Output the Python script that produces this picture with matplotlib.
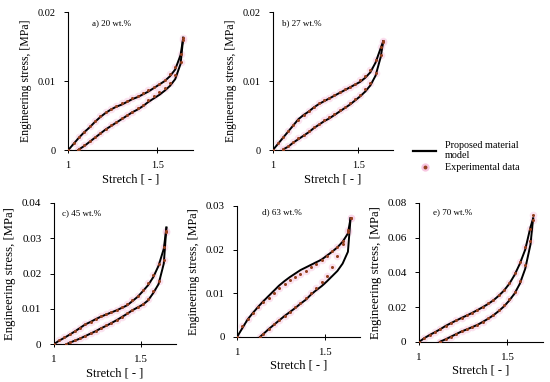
import numpy as np
import matplotlib
matplotlib.use("Agg")
import matplotlib.pyplot as plt
from matplotlib.lines import Line2D

plt.rcParams['font.family'] = 'Liberation Serif'

# shared stretch grid
STRETCH = [1.00, 1.03, 1.06, 1.09, 1.12, 1.15, 1.18, 1.21, 1.24, 1.27, 1.30, 1.33,
           1.36, 1.39, 1.42, 1.45, 1.48, 1.51, 1.54, 1.57, 1.60, 1.63, 1.645]
nan = np.nan

PANEL_LABELS = ["a) 20 wt.%", "b) 27 wt.%", "c) 45 wt.%", "d) 63 wt.%", "e) 70 wt.%"]
Y_TICKS = [[0, 0.01, 0.02], [0, 0.01, 0.02], [0, 0.01, 0.02, 0.03, 0.04],
           [0, 0.01, 0.02, 0.03], [0, 0.02, 0.04, 0.06, 0.08]]
Y_TICK_LABELS = [["0", "0.01", "0.02"], ["0", "0.01", "0.02"],
                 ["0", "0.01", "0.02", "0.03", "0.04"], ["0", "0.01", "0.02", "0.03"],
                 ["0", "0.02", "0.04", "0.06", "0.08"]]
X_TICKS = [1, 1.5]
X_TICK_LABELS = ["1", "1.5"]
# stretch where the unloading curve reaches zero stress
UNLOAD_START = [1.056, 1.061, 1.072, 1.13, 1.117]

# a) 20 wt.%
a_load_model = [0, .0009, .0018, .0026, .0033, .0041, .0048, .0054, .0059, .0063, .0066, .0070,
                .0074, .0077, .0081, .0085, .0090, .0095, .0100, .0107, .0117, .0138, .0163]
a_load_exp = [0, .0010, .0019, .0027, .0035, .0042, .0049, .0055, .0060, .0064, .0068, .0071,
              .0075, .0079, .0083, .0087, .0091, .0096, .0102, .0110, .0121, .0140, .0162]
a_unload_model = [nan, nan, .0001, .0006, .0012, .0018, .0024, .0030, .0035, .0040, .0045, .0050,
                  .0055, .0059, .0064, .0070, .0075, .0080, .0086, .0093, .0103, .0125, .0163]
a_unload_exp = [nan, nan, .0001, .0007, .0013, .0019, .0025, .0031, .0036, .0041, .0046, .0051,
                .0056, .0061, .0066, .0072, .0078, .0084, .0090, .0098, .0109, .0128, .0160]

# b) 27 wt.%
b_load_model = [0, .0009, .0018, .0027, .0036, .0045, .0051, .0056, .0062, .0067, .0071, .0075,
                .0079, .0083, .0087, .0091, .0095, .0099, .0105, .0113, .0127, .0148, .0158]
b_load_exp = [0, .0010, .0019, .0028, .0036, .0044, .0051, .0057, .0063, .0068, .0072, .0076,
              .0080, .0084, .0088, .0092, .0096, .0101, .0107, .0116, .0130, .0150, .0158]
b_unload_model = [nan, nan, .0001, .0005, .0011, .0016, .0021, .0026, .0032, .0037, .0042, .0046,
                  .0051, .0056, .0061, .0066, .0072, .0078, .0085, .0094, .0108, .0135, .0158]
b_unload_exp = [nan, nan, .0001, .0006, .0012, .0017, .0022, .0028, .0033, .0038, .0043, .0048,
                .0053, .0058, .0063, .0068, .0074, .0080, .0088, .0098, .0112, .0138, .0157]

# c) 45 wt.%
c_load_model = [0, .0010, .0018, .0027, .0036, .0046, .0056, .0063, .0071, .0078, .0084, .0090,
                .0096, .0103, .0110, .0122, .0134, .0150, .0167, .0190, .0222, .0270, .0330]
c_load_exp = [0, .0012, .0020, .0029, .0038, .0047, .0057, .0064, .0072, .0079, .0085, .0091,
              .0098, .0105, .0113, .0124, .0137, .0153, .0172, .0196, .0228, .0276, .0320]
c_unload_model = [nan, nan, nan, .0004, .0010, .0016, .0023, .0030, .0037, .0045, .0052, .0060,
                  .0068, .0077, .0086, .0096, .0104, .0112, .0124, .0145, .0170, .0228, .0330]
c_unload_exp = [nan, nan, nan, .0005, .0011, .0017, .0024, .0031, .0038, .0046, .0053, .0061,
                .0069, .0078, .0087, .0097, .0106, .0115, .0128, .0150, .0178, .0238, .0318]

# d) 63 wt.%
d_load_model = [0, .0020, .0040, .0055, .0069, .0082, .0094, .0106, .0118, .0128, .0137, .0145,
                .0153, .0159, .0165, .0171, .0177, .0186, .0195, .0205, .0218, .0237, .0272]
d_load_exp = [0, .0025, .0040, .0055, .0068, .0080, .0090, .0100, .0112, .0121, .0130, .0138,
              .0145, .0152, .0160, .0168, .0177, .0186, .0196, .0207, .0220, .0240, .0272]
d_unload_model = [nan, nan, nan, nan, nan, .0007, .0018, .0028, .0038, .0048, .0057, .0066,
                  .0076, .0085, .0097, .0107, .0116, .0127, .0139, .0151, .0168, .0195, .0272]
d_unload_exp = [nan, nan, nan, nan, nan, .0007, .0018, .0029, .0039, .0049, .0058, .0068,
                .0078, .0088, .0100, .0112, .0125, .0140, .0160, .0185, .0212, .0245, .0272]

# e) 70 wt.%
e_load_model = [0, .0022, .0040, .0056, .0073, .0092, .0108, .0123, .0138, .0152, .0167, .0183,
                .0200, .0218, .0239, .0265, .0295, .0334, .0385, .0450, .0530, .0660, .0710]
e_load_exp = [0, .0025, .0042, .0058, .0075, .0093, .0109, .0124, .0139, .0153, .0168, .0185,
              .0202, .0221, .0243, .0270, .0301, .0341, .0394, .0462, .0545, .0650, .0730]
e_unload_model = [nan, nan, nan, nan, .0002, .0015, .0030, .0045, .0060, .0072, .0085, .0098,
                  .0115, .0133, .0153, .0177, .0204, .0238, .0278, .0335, .0420, .0560, .0710]
e_unload_exp = [nan, nan, nan, nan, .0002, .0016, .0031, .0046, .0060, .0073, .0086, .0100,
                .0117, .0136, .0157, .0182, .0210, .0246, .0288, .0348, .0440, .0580, .0700]

LOAD_MODEL = [a_load_model, b_load_model, c_load_model, d_load_model, e_load_model]
LOAD_EXP = [a_load_exp, b_load_exp, c_load_exp, d_load_exp, e_load_exp]
UNLOAD_MODEL = [a_unload_model, b_unload_model, c_unload_model, d_unload_model, e_unload_model]
UNLOAD_EXP = [a_unload_exp, b_unload_exp, c_unload_exp, d_unload_exp, e_unload_exp]

# axes rectangles in figure fractions [left, bottom, width, height]
RECTS = [[0.124, 0.607, 0.227, 0.361],
         [0.496, 0.607, 0.218, 0.361],
         [0.098, 0.099, 0.222, 0.370],
         [0.431, 0.118, 0.224, 0.343],
         [0.762, 0.105, 0.225, 0.364]]
LABEL_POS = [(0.19, 0.92), (0.08, 0.92), (0.07, 0.93), (0.20, 0.95), (0.11, 0.93)]
YLABEL_SIZE = [8.5, 8.5, 9.2, 8.7, 9.2]
TICK_SIZE = [7.5, 7.5, 8.0, 7.8, 8.0]

dot_color = "#96401f"
halo_color = "#f8c8e2"

fig = plt.figure(figsize=(5.5, 3.82), dpi=100)
x = np.array(STRETCH)

for i in range(5):
    ax = fig.add_axes(RECTS[i])
    lm = np.array(LOAD_MODEL[i])
    le = np.array(LOAD_EXP[i])
    um = np.array(UNLOAD_MODEL[i])
    ue = np.array(UNLOAD_EXP[i])
    ok = ~np.isnan(um)
    ux = np.r_[UNLOAD_START[i], x[ok]]
    um_line = np.r_[0, um[ok]]
    ue_pts = np.r_[0, ue[ok]]

    # pink halos, model lines, then experimental dots on top
    for xs, ys in [(x, le), (ux, ue_pts)]:
        ax.plot(xs, ys, 'o', ms=5.5, color=halo_color, alpha=0.5, mec='none', zorder=1)
    ax.plot(x, lm, color='black', lw=1.4, zorder=2)
    ax.plot(ux, um_line, color='black', lw=1.4, zorder=2)
    for xs, ys in [(x, le), (ux, ue_pts)]:
        ax.plot(xs, ys, 'o', ms=2.2, color=dot_color, mec='none', zorder=3)

    ax.set_xlim(1, 1.7)
    ax.set_ylim(0, Y_TICKS[i][-1])
    ax.set_xticks(X_TICKS)
    ax.set_xticklabels(X_TICK_LABELS, fontsize=TICK_SIZE[i])
    ax.set_yticks(Y_TICKS[i])
    ax.set_yticklabels(Y_TICK_LABELS[i], fontsize=TICK_SIZE[i])
    ax.tick_params(axis='y', direction='out', length=3, width=0.7, pad=6)
    ax.tick_params(axis='x', direction='inout', length=4, width=0.7, pad=6)
    for s in ['top', 'right']:
        ax.spines[s].set_visible(False)
    for s in ['left', 'bottom']:
        ax.spines[s].set_linewidth(0.8)
    ax.set_xlabel("Stretch [ - ]", fontsize=9, labelpad=2)
    ax.set_ylabel("Engineering stress, [MPa]", fontsize=YLABEL_SIZE[i], labelpad=4)
    ax.text(LABEL_POS[i][0], LABEL_POS[i][1], PANEL_LABELS[i], transform=ax.transAxes,
            fontsize=6.5, va='center', ha='left')

handles = [Line2D([], [], color='black', lw=1.6),
           (Line2D([], [], ls='none', marker='o', ms=6, color=halo_color, mec='none'),
            Line2D([], [], ls='none', marker='o', ms=2.8, color=dot_color, mec='none'))]
fig.legend(handles, ["Proposed material\nmodel", "Experimental data"],
           loc='upper left', bbox_to_anchor=(0.735, 0.655), frameon=False,
           fontsize=7.3, handlelength=2.2, handletextpad=0.9, labelspacing=0.3)

fig.savefig("out.png", dpi=100)
